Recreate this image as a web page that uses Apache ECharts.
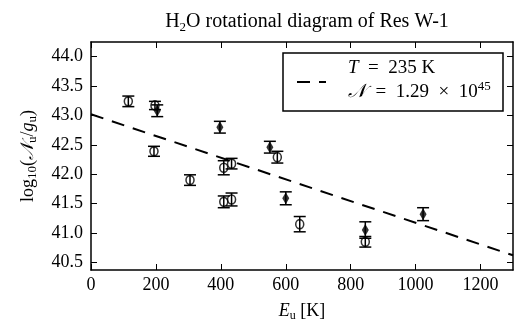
<!DOCTYPE html>
<html>
<head>
<meta charset="utf-8">
<script src="https://cdn.jsdelivr.net/npm/echarts@6/dist/echarts.min.js"></script>
<style>
  html, body { margin: 0; padding: 0; background: #fff; }
  #main { width: 529px; height: 331px; }
</style>
</head>
<body>
<div id="main"></div>
<script>
// data: E_u [K], log10(N_u/g_u), error
var circleE   = [115, 197, 194, 305, 409, 433, 409, 433, 574, 643, 845];
var circleLog = [43.24, 43.17, 42.39, 41.90, 42.11, 42.18, 41.53, 41.57, 42.29, 41.15, 40.85];
var circleErr = [0.09, 0.07, 0.085, 0.09, 0.12, 0.09, 0.10, 0.11, 0.10, 0.13, 0.09];

var diamondE   = [204, 397, 551, 600, 845, 1023];
var diamondLog = [43.08, 42.80, 42.46, 41.59, 41.05, 41.32];
var diamondErr = [0.10, 0.10, 0.10, 0.11, 0.14, 0.11];

// fitted line end points
var fitE   = [0, 1300];
var fitLog = [43.02, 40.62];

var xTicks = [0, 200, 400, 600, 800, 1000, 1200];
var yTicks = [40.5, 41.0, 41.5, 42.0, 42.5, 43.0, 43.5, 44.0];

var serif = 'Liberation Serif';

function pairs(a, b) {
  return a.map(function (v, i) { return [v, b[i]]; });
}
function errRows(e, v, err) {
  return e.map(function (x, i) { return [x, v[i] - err[i], v[i] + err[i]]; });
}

var errData = errRows(circleE, circleLog, circleErr).concat(errRows(diamondE, diamondLog, diamondErr));

var myChart = echarts.init(document.getElementById('main'));

var frameLine = { show: true, onZero: false, lineStyle: { color: '#000', width: 1.5 } };
var inTick = { show: true, inside: true, length: 6, lineStyle: { color: '#000', width: 1 } };

option = {
  animation: false,
  backgroundColor: '#fff',
  title: {
    text: 'H{s|2}O rotational diagram of Res W-1',
    left: 302,
    top: 5,
    textAlign: 'center',
    textStyle: {
      fontFamily: serif, fontSize: 20, fontWeight: 'normal', color: '#000', lineHeight: 24,
      rich: {
        s: { fontFamily: serif, fontSize: 13, verticalAlign: 'bottom', lineHeight: 14 }
      }
    }
  },
  grid: { left: 91, right: 16, top: 42, bottom: 61 },
  xAxis: [
    {
      type: 'value', min: 0, max: 1300, position: 'bottom',
      axisLine: frameLine,
      axisTick: Object.assign({ customValues: xTicks }, inTick),
      axisLabel: {
        customValues: xTicks, color: '#000', fontFamily: serif, fontSize: 18, margin: 6,
        formatter: function (v) { return String(v); }
      },
      splitLine: { show: false },
      name: '{i|E}{s|u} [K]',
      nameLocation: 'middle',
      nameGap: 30,
      nameTextStyle: {
        fontFamily: serif, fontSize: 18, color: '#000',
        rich: {
          i: { fontFamily: serif, fontStyle: 'italic', fontSize: 18, lineHeight: 22 },
          s: { fontFamily: serif, fontSize: 12, verticalAlign: 'bottom', lineHeight: 13 }
        }
      }
    },
    {
      type: 'value', min: 0, max: 1300, position: 'top',
      axisLine: frameLine,
      axisTick: Object.assign({ customValues: xTicks }, inTick),
      axisLabel: { show: false },
      splitLine: { show: false }
    }
  ],
  yAxis: [
    {
      type: 'value', min: 40.37, max: 44.25, position: 'left',
      axisLine: frameLine,
      axisTick: Object.assign({ customValues: yTicks }, inTick),
      axisLabel: {
        customValues: yTicks, color: '#000', fontFamily: serif, fontSize: 18, margin: 8,
        formatter: function (v) { return v.toFixed(1); }
      },
      splitLine: { show: false },
      name: 'log{s|10}({i|𝒩}{s|u}/{i|g}{s|u})',
      nameLocation: 'middle',
      nameRotate: 90,
      nameGap: 52,
      nameTextStyle: {
        fontFamily: serif, fontSize: 18, color: '#000',
        rich: {
          i: { fontFamily: serif, fontStyle: 'italic', fontSize: 18, lineHeight: 22 },
          s: { fontFamily: serif, fontSize: 13, verticalAlign: 'bottom', lineHeight: 13 }
        }
      }
    },
    {
      type: 'value', min: 40.37, max: 44.25, position: 'right',
      axisLine: frameLine,
      axisTick: Object.assign({ customValues: yTicks }, inTick),
      axisLabel: { show: false },
      splitLine: { show: false }
    }
  ],
  series: [
    {
      name: 'fit',
      type: 'line',
      data: pairs(fitE, fitLog),
      showSymbol: false,
      lineStyle: { color: '#000', width: 2, type: [13, 9] },
      z: 1
    },
    {
      name: 'errors',
      type: 'custom',
      data: errData,
      encode: { x: 0, y: [1, 2] },
      renderItem: function (params, api) {
        var x = api.value(0);
        var lo = api.coord([x, api.value(1)]);
        var hi = api.coord([x, api.value(2)]);
        var hw = 6;
        var st = { stroke: '#000', lineWidth: 1.5 };
        return {
          type: 'group',
          children: [
            { type: 'line', shape: { x1: lo[0], y1: lo[1], x2: hi[0], y2: hi[1] }, style: st },
            { type: 'line', shape: { x1: lo[0] - hw, y1: lo[1], x2: lo[0] + hw, y2: lo[1] }, style: st },
            { type: 'line', shape: { x1: hi[0] - hw, y1: hi[1], x2: hi[0] + hw, y2: hi[1] }, style: st }
          ]
        };
      },
      z: 2
    },
    {
      name: 'circles',
      type: 'scatter',
      data: pairs(circleE, circleLog),
      symbol: 'circle',
      symbolSize: [8, 9],
      itemStyle: { color: 'rgba(0,0,0,0)', borderColor: '#000', borderWidth: 1.6 },
      z: 3
    },
    {
      name: 'diamonds',
      type: 'scatter',
      data: pairs(diamondE, diamondLog),
      symbol: 'diamond',
      symbolSize: [7, 12],
      itemStyle: { color: '#000' },
      z: 3
    }
  ],
  graphic: [
    {
      type: 'rect',
      shape: { x: 283, y: 53, width: 220, height: 58 },
      style: { fill: '#fff', stroke: '#000', lineWidth: 1.5 },
      z: 10
    },
    {
      type: 'line',
      shape: { x1: 297, y1: 82, x2: 326, y2: 82 },
      style: { stroke: '#000', lineWidth: 2, lineDash: [13, 9] },
      z: 11
    },
    {
      type: 'text',
      left: 348,
      top: 56,
      style: {
        text: '{i|T}\u2002=\u2002235 K\n{i|𝒩}\u2002=\u20021.29\u2002×\u200210{p|45}',
        fontFamily: serif, fontSize: 19, fill: '#000', lineHeight: 24,
        rich: {
          i: { fontFamily: serif, fontStyle: 'italic', fontSize: 19, lineHeight: 24 },
          p: { fontFamily: serif, fontSize: 13, verticalAlign: 'top', lineHeight: 14 }
        }
      },
      z: 11
    }
  ]
};

myChart.setOption(option);
</script>
</body>
</html>
